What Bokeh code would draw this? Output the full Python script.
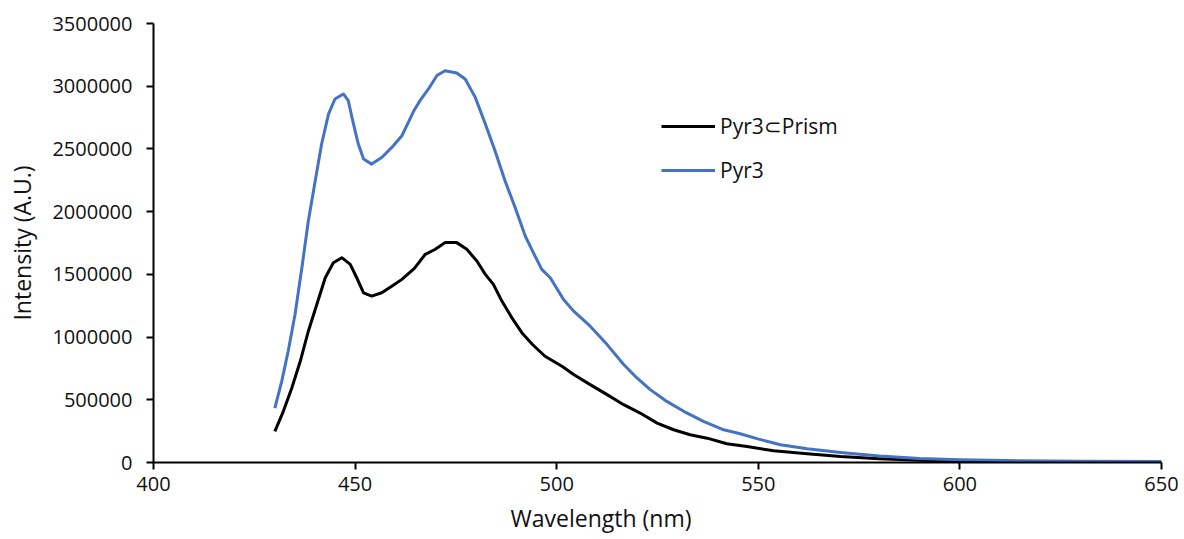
from bokeh.plotting import figure
from bokeh.models import FixedTicker, Legend, LegendItem, Title, Range1d
from bokeh.embed import file_html
from bokeh.resources import INLINE

# Pyr3 (blue)
wl_pyr3 = [430.1, 431.8, 433.4, 435.1, 436.8, 438.4, 440.1, 441.7, 443.4, 445.0, 447.1, 448.3,
           449.6, 450.8, 452.1, 454.1, 456.6, 459.1, 461.6, 463.2, 464.5, 466.1, 468.2, 470.3,
           472.3, 475.2, 477.3, 479.8, 482.3, 484.7, 487.2, 489.7, 492.2, 494.2, 496.3, 498.4,
           501.7, 504.2, 507.9, 512.5, 516.6, 519.9, 523.2, 527.3, 531.5, 536.4, 541.4, 545.5,
           550.1, 555.5, 562.1, 570.4, 580, 590, 600, 615, 630, 650]
int_pyr3 = [434000, 647000, 887000, 1180000, 1553000, 1926000, 2245000, 2539000, 2778000,
            2898000, 2938000, 2885000, 2699000, 2539000, 2419000, 2379000, 2432000, 2512000,
            2605000, 2711000, 2800000, 2885000, 2978000, 3085000, 3124000, 3106000, 3058000,
            2911000, 2699000, 2485000, 2245000, 2032000, 1806000, 1673000, 1540000, 1473000,
            1300000, 1207000, 1100000, 940000, 781000, 674000, 581000, 487000, 408000, 328000,
            261000, 229000, 186000, 141000, 109000, 80000, 52000, 32000, 22000, 14000, 10000,
            7000]

# Pyr3⊂Prism (black)
wl_prism = [430.1, 432.2, 434.3, 436.4, 438.4, 440.5, 442.6, 444.6, 446.7, 448.8, 450.4, 452.1,
            454.1, 456.6, 459.1, 461.6, 464.7, 467.4, 469.9, 472.3, 475.2, 477.7, 480.2, 482.3,
            484.3, 486.4, 488.9, 491.4, 494.0, 497.1, 501.3, 504.2, 508.3, 512.5, 516.6, 520.7,
            524.9, 529.0, 533.1, 537.3, 542.2, 547.2, 553.8, 562.1, 570.4, 580, 590, 600, 620,
            650]
int_prism = [248000, 408000, 594000, 807000, 1047000, 1260000, 1473000, 1593000, 1633000,
             1580000, 1473000, 1353000, 1327000, 1353000, 1406000, 1460000, 1548000, 1660000,
             1700000, 1753000, 1753000, 1700000, 1606000, 1500000, 1420000, 1287000, 1153000,
             1033000, 941000, 847000, 767000, 701000, 621000, 541000, 461000, 394000, 314000,
             261000, 221000, 194000, 149000, 128000, 93000, 70000, 48000, 30000, 18000, 12000,
             7000, 4000]

x_ticks = [400, 450, 500, 550, 600, 650]
y_ticks = [0, 500000, 1000000, 1500000, 2000000, 2500000, 3000000, 3500000]

FONT = "Open Sans"
TICK_FS = "20px"
TITLE_FS = "23px"
LEG_FS = "21px"
TXT = "#111111"

p = figure(width=1180, height=539, output_backend="svg", toolbar_location=None,
           x_range=Range1d(400, 650), y_range=Range1d(0, 3500000),
           min_border_left=153, min_border_right=19, min_border_top=23, min_border_bottom=0)
p.outline_line_color = None
p.grid.visible = False
p.background_fill_color = "white"
p.border_fill_color = "white"

for ax, ticks in ((p.xaxis[0], x_ticks), (p.yaxis[0], y_ticks)):
    ax.ticker = FixedTicker(ticks=ticks)
    ax.minor_tick_line_color = None
    ax.major_tick_in = 0
    ax.major_tick_out = 7
    ax.axis_line_color = "black"
    ax.axis_line_width = 2
    ax.major_tick_line_color = "black"
    ax.major_tick_line_width = 2
    ax.major_label_text_font = FONT
    ax.major_label_text_font_size = TICK_FS
    ax.major_label_text_color = TXT
    ax.axis_label_text_font = FONT
    ax.axis_label_text_font_size = TITLE_FS
    ax.axis_label_text_font_style = "normal"
    ax.axis_label_text_color = TXT

p.yaxis[0].formatter.use_scientific = False
p.yaxis[0].major_label_standoff = 14
p.xaxis[0].major_label_standoff = 7
p.yaxis[0].axis_label = "Intensity (A.U.)"
p.yaxis[0].axis_label_standoff = 11

p.add_layout(Title(text="Wavelength (nm)", align="left", offset=357, text_font=FONT,
                   text_font_size=TITLE_FS, text_font_style="normal", text_color=TXT,
                   standoff=12), "below")

r1 = p.line(wl_prism, int_prism, line_color="black", line_width=3, line_join="round")
r2 = p.line(wl_pyr3, int_pyr3, line_color="#4472C4", line_width=3, line_join="round")

legend = Legend(items=[LegendItem(label="Pyr3⊂Prism", renderers=[r1]),
                       LegendItem(label="Pyr3", renderers=[r2])],
                location=(508, 278), background_fill_alpha=0, border_line_color=None,
                padding=0, margin=0, spacing=16, glyph_width=54, glyph_height=20,
                label_standoff=5, label_text_font=FONT, label_text_font_size=LEG_FS,
                label_text_color=TXT, label_height=20)
p.add_layout(legend, "center")

open("out.html", "w").write(file_html(p, INLINE))
